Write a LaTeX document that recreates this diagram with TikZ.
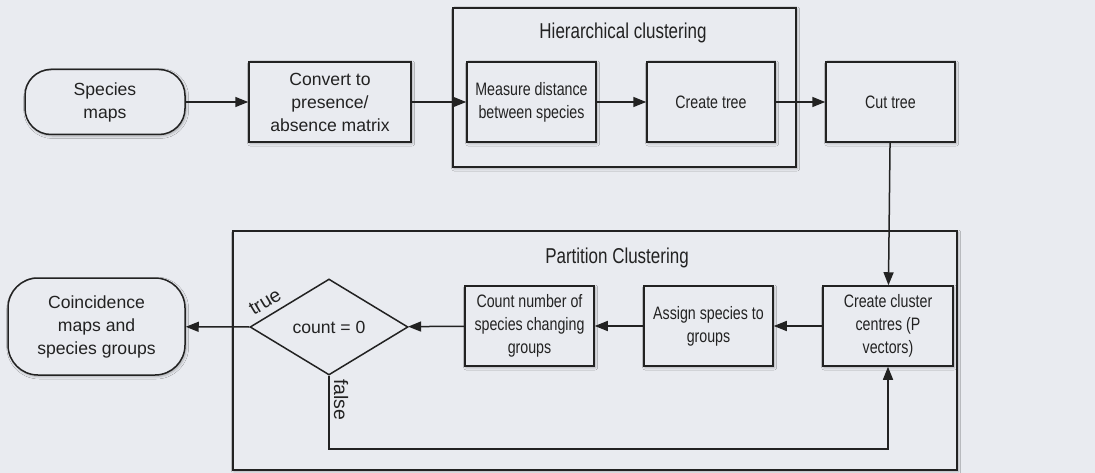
\documentclass[tikz,border=0pt]{standalone}
\usepackage{fontspec}
\setmainfont{Liberation Sans}
\newfontfamily\narrowsans{Liberation Sans}[FakeStretch=0.79]
\usetikzlibrary{arrows.meta,shapes.geometric,shadows.blur}
\definecolor{paper}{HTML}{E9EBF0}
\definecolor{ink}{HTML}{222222}
\tikzset{
  shade/.style={blur shadow={shadow xshift=1.2pt,shadow yshift=-1.5pt,shadow blur radius=2.5pt,shadow opacity=30}},
  wide/.style={font=\fontsize{17.6}{23}\selectfont},
  narrow/.style={font=\narrowsans\fontsize{18}{23}\selectfont},
  stepbox/.style={draw=ink,line width=1.5pt,fill=paper,shade,align=center,inner sep=2pt,narrow},
  terminal/.style={stepbox,rounded corners=#1,wide},
  groupbox/.style={draw=ink,line width=1.5pt,fill=paper,shade},
  decision/.style={draw=ink,line width=1.5pt,fill=paper,diamond,inner sep=0pt,wide},
  arr/.style={draw=ink,line width=1.5pt,-{Triangle[length=13pt,width=10pt]}},
  grouptitle/.style={inner sep=0pt,font=\narrowsans\fontsize{21.5}{25}\selectfont},
  branch/.style={inner sep=0pt,font=\fontsize{19.5}{23}\selectfont}
}
\begin{document}
\begin{tikzpicture}[x=1pt,y=-1pt,text=ink]
\useasboundingbox[fill=paper] (0,0) rectangle (1095,473);

% group frames
\node[groupbox,minimum width=343pt,minimum height=159pt] (hier) at (624.5,87.5) {};
\node[grouptitle] (hiertitle) at (623,33) {Hierarchical clustering};
\node[groupbox,minimum width=724pt,minimum height=239pt] (part) at (595,350.5) {};
\node[grouptitle] (parttitle) at (617,258) {Partition Clustering};

% top row
\node[terminal=26pt,minimum width=160pt,minimum height=65pt] (maps) at (105,102) {Species\\maps};
\node[stepbox,wide,minimum width=162pt,minimum height=80pt] (conv) at (330,102) {Convert to\\presence/\\absence matrix};
\node[stepbox,minimum width=129pt,minimum height=80pt] (meas) at (531.5,102) {Measure distance\\between species};
\node[stepbox,minimum width=128pt,minimum height=80pt] (tree) at (711,102) {Create tree};
\node[stepbox,minimum width=129pt,minimum height=80pt] (cut) at (890.5,102) {Cut tree};

% bottom row
\node[stepbox,minimum width=130pt,minimum height=80pt] (cc) at (888,326) {Create cluster\\centres (P\\vectors)};
\node[stepbox,minimum width=129pt,minimum height=80pt] (asg) at (708.5,326) {Assign species to\\groups};
\node[stepbox,minimum width=129pt,minimum height=80pt] (cnt) at (529.5,326) {Count number of\\species changing\\groups};
\node[decision,minimum width=158pt,minimum height=96pt] (dec) at (329,327) {count = 0};
\node[terminal=30pt,minimum width=177pt,minimum height=97pt] (out) at (96.5,326.5) {Coincidence\\maps and\\species groups};

% connectors
\draw[arr] (maps) -- (conv);
\draw[arr] (conv) -- (meas);
\draw[arr] (meas) -- (tree);
\draw[arr] (tree) -- (cut);
\draw[arr] (cut) -- (cc);
\draw[arr] (cc) -- (asg);
\draw[arr] (asg) -- (cnt);
\draw[arr] (cnt) -- (dec);
\draw[arr] (dec.west) -- (out);
\draw[arr] (dec.south) -- ++(0,73) -| (cc.south);

% branch labels
\node[branch,rotate=31] (truelbl) at (265,302) {true};
\node[branch,rotate=-90] (falselbl) at (341,400) {false};
\end{tikzpicture}
\end{document}
